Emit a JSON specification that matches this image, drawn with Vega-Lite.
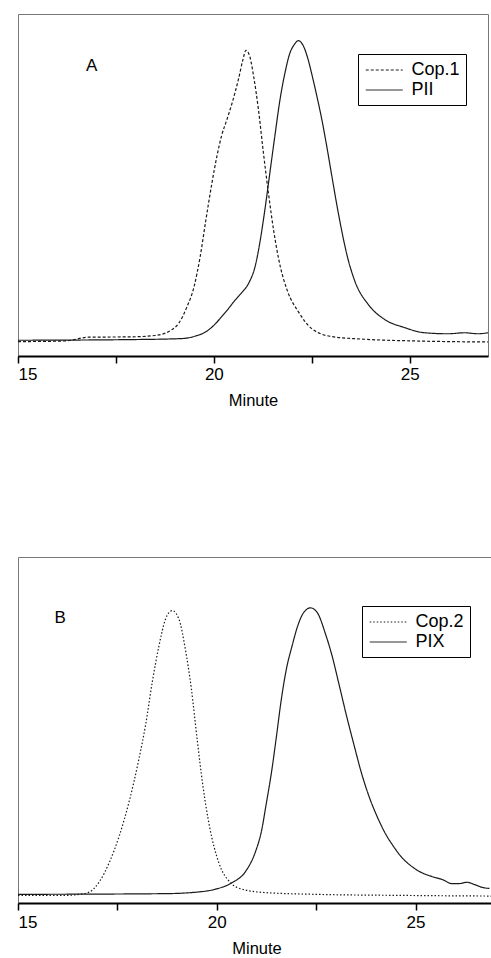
{
  "$schema": "https://vega.github.io/schema/vega-lite/v6.json",
  "padding": {"left": 15, "top": 13, "right": 0, "bottom": 0},
  "background": "white",
  "config": {
    "font": "Liberation Sans",
    "view": {"stroke": "#777", "strokeWidth": 1},
    "axis": {"grid": false},
    "legend": {"labelFont": "Liberation Sans"}
  },
  "datasets": {
    "a": [
      {"series": "Cop.1", "minute": 15.0, "signal": 4.2},
      {"series": "Cop.1", "minute": 16.2, "signal": 4.4},
      {"series": "Cop.1", "minute": 16.8, "signal": 5.5},
      {"series": "Cop.1", "minute": 17.9, "signal": 5.6},
      {"series": "Cop.1", "minute": 18.5, "signal": 6.0},
      {"series": "Cop.1", "minute": 18.9, "signal": 7.5},
      {"series": "Cop.1", "minute": 19.1, "signal": 9.5},
      {"series": "Cop.1", "minute": 19.3, "signal": 14.0},
      {"series": "Cop.1", "minute": 19.5, "signal": 20.5},
      {"series": "Cop.1", "minute": 19.65, "signal": 29.0},
      {"series": "Cop.1", "minute": 19.8, "signal": 40.0},
      {"series": "Cop.1", "minute": 19.95, "signal": 50.5},
      {"series": "Cop.1", "minute": 20.08, "signal": 58.5},
      {"series": "Cop.1", "minute": 20.2, "signal": 64.5},
      {"series": "Cop.1", "minute": 20.33, "signal": 69.0},
      {"series": "Cop.1", "minute": 20.48, "signal": 74.5},
      {"series": "Cop.1", "minute": 20.63, "signal": 81.0},
      {"series": "Cop.1", "minute": 20.74, "signal": 86.5},
      {"series": "Cop.1", "minute": 20.82, "signal": 89.4},
      {"series": "Cop.1", "minute": 20.92, "signal": 87.5},
      {"series": "Cop.1", "minute": 21.02, "signal": 81.5},
      {"series": "Cop.1", "minute": 21.14, "signal": 72.0},
      {"series": "Cop.1", "minute": 21.26, "signal": 60.0},
      {"series": "Cop.1", "minute": 21.39, "signal": 48.0},
      {"series": "Cop.1", "minute": 21.53, "signal": 36.5},
      {"series": "Cop.1", "minute": 21.7, "signal": 26.0},
      {"series": "Cop.1", "minute": 21.88, "signal": 19.0},
      {"series": "Cop.1", "minute": 22.16, "signal": 12.9},
      {"series": "Cop.1", "minute": 22.5, "signal": 8.0},
      {"series": "Cop.1", "minute": 23.0, "signal": 5.7},
      {"series": "Cop.1", "minute": 23.85, "signal": 4.9},
      {"series": "Cop.1", "minute": 25.13, "signal": 4.4},
      {"series": "Cop.1", "minute": 27.0, "signal": 4.1},
      {"series": "PII", "minute": 15.0, "signal": 4.6},
      {"series": "PII", "minute": 17.9, "signal": 4.8},
      {"series": "PII", "minute": 19.19, "signal": 5.1},
      {"series": "PII", "minute": 19.52, "signal": 5.8},
      {"series": "PII", "minute": 19.8, "signal": 7.1},
      {"series": "PII", "minute": 20.03, "signal": 9.3},
      {"series": "PII", "minute": 20.2, "signal": 11.5},
      {"series": "PII", "minute": 20.37, "signal": 13.8},
      {"series": "PII", "minute": 20.54, "signal": 16.3},
      {"series": "PII", "minute": 20.71, "signal": 18.5},
      {"series": "PII", "minute": 20.9, "signal": 21.5},
      {"series": "PII", "minute": 21.05, "signal": 26.0},
      {"series": "PII", "minute": 21.18, "signal": 33.5},
      {"series": "PII", "minute": 21.3, "signal": 42.5},
      {"series": "PII", "minute": 21.43, "signal": 53.5},
      {"series": "PII", "minute": 21.56, "signal": 64.5},
      {"series": "PII", "minute": 21.69, "signal": 75.0},
      {"series": "PII", "minute": 21.82, "signal": 83.0},
      {"series": "PII", "minute": 21.94, "signal": 88.5},
      {"series": "PII", "minute": 22.05, "signal": 91.0},
      {"series": "PII", "minute": 22.16, "signal": 92.2},
      {"series": "PII", "minute": 22.28, "signal": 90.8},
      {"series": "PII", "minute": 22.4, "signal": 87.0},
      {"series": "PII", "minute": 22.52, "signal": 81.5},
      {"series": "PII", "minute": 22.64, "signal": 75.5},
      {"series": "PII", "minute": 22.76, "signal": 69.0},
      {"series": "PII", "minute": 22.88, "signal": 61.5},
      {"series": "PII", "minute": 23.0, "signal": 53.5},
      {"series": "PII", "minute": 23.12, "signal": 45.5},
      {"series": "PII", "minute": 23.25, "signal": 37.5},
      {"series": "PII", "minute": 23.4, "signal": 29.5},
      {"series": "PII", "minute": 23.6, "signal": 21.9},
      {"series": "PII", "minute": 23.94, "signal": 15.1},
      {"series": "PII", "minute": 24.36, "signal": 10.7},
      {"series": "PII", "minute": 24.87, "signal": 8.3},
      {"series": "PII", "minute": 25.38, "signal": 6.8},
      {"series": "PII", "minute": 25.98, "signal": 6.5},
      {"series": "PII", "minute": 26.4, "signal": 6.8},
      {"series": "PII", "minute": 26.74, "signal": 6.5},
      {"series": "PII", "minute": 27.0, "signal": 6.8}
    ],
    "b": [
      {"series": "Cop.2", "minute": 15.0, "signal": 2.2},
      {"series": "Cop.2", "minute": 16.2, "signal": 2.2},
      {"series": "Cop.2", "minute": 16.55, "signal": 2.5},
      {"series": "Cop.2", "minute": 16.8, "signal": 3.2},
      {"series": "Cop.2", "minute": 17.05, "signal": 6.2},
      {"series": "Cop.2", "minute": 17.3, "signal": 11.8},
      {"series": "Cop.2", "minute": 17.55, "signal": 19.5},
      {"series": "Cop.2", "minute": 17.8, "signal": 29.5},
      {"series": "Cop.2", "minute": 18.04, "signal": 41.5},
      {"series": "Cop.2", "minute": 18.21, "signal": 51.5},
      {"series": "Cop.2", "minute": 18.38, "signal": 64.0},
      {"series": "Cop.2", "minute": 18.55, "signal": 74.5},
      {"series": "Cop.2", "minute": 18.71, "signal": 82.0},
      {"series": "Cop.2", "minute": 18.88, "signal": 84.5},
      {"series": "Cop.2", "minute": 19.05, "signal": 82.0},
      {"series": "Cop.2", "minute": 19.2, "signal": 74.0},
      {"series": "Cop.2", "minute": 19.36, "signal": 62.0},
      {"series": "Cop.2", "minute": 19.51, "signal": 47.0},
      {"series": "Cop.2", "minute": 19.65, "signal": 34.0},
      {"series": "Cop.2", "minute": 19.82, "signal": 22.0},
      {"series": "Cop.2", "minute": 20.05, "signal": 11.7},
      {"series": "Cop.2", "minute": 20.35, "signal": 5.8},
      {"series": "Cop.2", "minute": 20.64, "signal": 4.0},
      {"series": "Cop.2", "minute": 21.23, "signal": 3.0},
      {"series": "Cop.2", "minute": 22.5, "signal": 2.5},
      {"series": "Cop.2", "minute": 24.6, "signal": 2.2},
      {"series": "Cop.2", "minute": 27.0, "signal": 2.0},
      {"series": "PIX", "minute": 15.0, "signal": 2.5},
      {"series": "PIX", "minute": 18.7, "signal": 2.7},
      {"series": "PIX", "minute": 19.55, "signal": 3.2},
      {"series": "PIX", "minute": 19.97, "signal": 4.0},
      {"series": "PIX", "minute": 20.39, "signal": 5.9},
      {"series": "PIX", "minute": 20.73, "signal": 9.2},
      {"series": "PIX", "minute": 20.98, "signal": 15.0},
      {"series": "PIX", "minute": 21.12, "signal": 20.5},
      {"series": "PIX", "minute": 21.25, "signal": 29.0},
      {"series": "PIX", "minute": 21.38, "signal": 38.0},
      {"series": "PIX", "minute": 21.5, "signal": 48.0},
      {"series": "PIX", "minute": 21.62, "signal": 58.5},
      {"series": "PIX", "minute": 21.75, "signal": 67.5},
      {"series": "PIX", "minute": 21.9, "signal": 74.5},
      {"series": "PIX", "minute": 22.02, "signal": 79.5},
      {"series": "PIX", "minute": 22.19, "signal": 84.0},
      {"series": "PIX", "minute": 22.36, "signal": 85.3},
      {"series": "PIX", "minute": 22.53, "signal": 83.9},
      {"series": "PIX", "minute": 22.74, "signal": 77.6},
      {"series": "PIX", "minute": 22.9, "signal": 71.5},
      {"series": "PIX", "minute": 23.07, "signal": 63.5},
      {"series": "PIX", "minute": 23.25, "signal": 54.8},
      {"series": "PIX", "minute": 23.45, "signal": 45.8},
      {"series": "PIX", "minute": 23.65, "signal": 37.2},
      {"series": "PIX", "minute": 23.85, "signal": 30.2},
      {"series": "PIX", "minute": 24.05, "signal": 24.6},
      {"series": "PIX", "minute": 24.25, "signal": 19.9},
      {"series": "PIX", "minute": 24.45, "signal": 16.3},
      {"series": "PIX", "minute": 24.66, "signal": 13.1},
      {"series": "PIX", "minute": 24.88, "signal": 10.8},
      {"series": "PIX", "minute": 25.1, "signal": 9.1},
      {"series": "PIX", "minute": 25.4, "signal": 7.7},
      {"series": "PIX", "minute": 25.67, "signal": 6.8},
      {"series": "PIX", "minute": 25.92, "signal": 5.6},
      {"series": "PIX", "minute": 26.09, "signal": 5.6},
      {"series": "PIX", "minute": 26.3, "signal": 6.0},
      {"series": "PIX", "minute": 26.47, "signal": 5.4},
      {"series": "PIX", "minute": 26.68, "signal": 4.5},
      {"series": "PIX", "minute": 26.86, "signal": 4.2}
    ],
    "labelA": [{"minute": 16.88, "signal": 84.9, "text": "A"}],
    "labelB": [{"minute": 16.06, "signal": 82.4, "text": "B"}]
  },
  "bounds": "flush",
  "spacing": 201,
  "vconcat": [
    {
      "width": 470,
      "height": 342,
      "layer": [
        {
          "data": {"name": "a"},
          "mark": {"type": "line", "stroke": "#1a1a1a", "strokeWidth": 1.2, "interpolate": "monotone"},
          "encoding": {
            "x": {
              "field": "minute", "type": "quantitative",
              "scale": {"domain": [15, 27], "nice": false, "zero": false},
              "axis": {
                "title": "Minute", "values": [15, 17.5, 20, 22.5, 25],
                "labelExpr": "datum.value % 5 == 0 ? datum.label : ''",
                "domainColor": "black", "domainWidth": 2,
                "tickColor": "black", "tickWidth": 1.5, "tickSize": 7,
                "labelFontSize": 17, "labelColor": "black", "labelPadding": 3,
                "titleFontSize": 16.5, "titleFontWeight": "normal", "titleColor": "black", "titlePadding": 10
              }
            },
            "y": {
              "field": "signal", "type": "quantitative",
              "scale": {"domain": [0, 100], "nice": false},
              "axis": null
            },
            "strokeDash": {
              "field": "series", "type": "nominal",
              "scale": {"domain": ["Cop.1", "PII"], "range": [[3, 2], [1, 0]]},
              "legend": {
                "title": null, "orient": "none", "legendX": 340, "legendY": 40,
                "strokeColor": "black", "padding": 6, "symbolType": "M-1,0H3",
                "symbolSize": 342, "symbolOffset": 1, "symbolStrokeWidth": 1, "symbolStrokeColor": "#1a1a1a", "symbolFillColor": "transparent",
                "labelFontSize": 18, "labelColor": "black", "labelOffset": 26.5, "rowPadding": 1
              }
            }
          }
        },
        {
          "data": {"name": "labelA"},
          "mark": {"type": "text", "fontSize": 17, "color": "black"},
          "encoding": {
            "x": {"field": "minute", "type": "quantitative"},
            "y": {"field": "signal", "type": "quantitative"},
            "text": {"field": "text"}
          }
        }
      ]
    },
    {
      "width": 477,
      "height": 346,
      "layer": [
        {
          "data": {"name": "b"},
          "mark": {"type": "line", "stroke": "#1a1a1a", "strokeWidth": 1.2, "interpolate": "monotone"},
          "encoding": {
            "x": {
              "field": "minute", "type": "quantitative",
              "scale": {"domain": [15, 27], "nice": false, "zero": false},
              "axis": {
                "title": "Minute", "values": [15, 17.5, 20, 22.5, 25],
                "labelExpr": "datum.value % 5 == 0 ? datum.label : ''",
                "domainColor": "black", "domainWidth": 2,
                "tickColor": "black", "tickWidth": 1.5, "tickSize": 7,
                "labelFontSize": 17, "labelColor": "black", "labelPadding": 4,
                "titleFontSize": 16.5, "titleFontWeight": "normal", "titleColor": "black", "titlePadding": 10
              }
            },
            "y": {
              "field": "signal", "type": "quantitative",
              "scale": {"domain": [0, 100], "nice": false},
              "axis": null
            },
            "strokeDash": {
              "field": "series", "type": "nominal",
              "scale": {"domain": ["Cop.2", "PIX"], "range": [[1.5, 2], [1, 0]]},
              "legend": {
                "title": null, "orient": "none", "legendX": 344, "legendY": 49,
                "strokeColor": "black", "padding": 6, "symbolType": "M-1,0H3",
                "symbolSize": 342, "symbolOffset": 1, "symbolStrokeWidth": 1, "symbolStrokeColor": "#1a1a1a", "symbolFillColor": "transparent",
                "labelFontSize": 18, "labelColor": "black", "labelOffset": 26.5, "rowPadding": 1
              }
            }
          }
        },
        {
          "data": {"name": "labelB"},
          "mark": {"type": "text", "fontSize": 17, "color": "black"},
          "encoding": {
            "x": {"field": "minute", "type": "quantitative"},
            "y": {"field": "signal", "type": "quantitative"},
            "text": {"field": "text"}
          }
        }
      ]
    }
  ],
  "resolve": {"scale": {"strokeDash": "independent", "x": "independent", "y": "independent"}}
}
